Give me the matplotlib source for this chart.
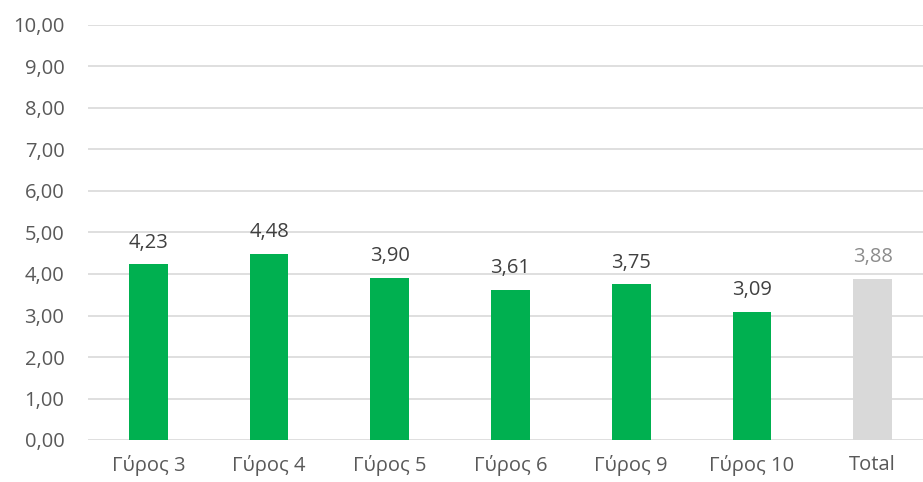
import matplotlib
matplotlib.use("Agg")
import matplotlib.pyplot as plt

categories = ["Γύρος 3", "Γύρος 4", "Γύρος 5", "Γύρος 6", "Γύρος 9", "Γύρος 10", "Total"]
values = [4.23, 4.48, 3.90, 3.61, 3.75, 3.09, 3.88]
colors = ["#00B050"] * 6 + ["#D9D9D9"]
label_colors = ["#404040"] * 6 + ["#8C8C8C"]
yticks = [0, 1, 2, 3, 4, 5, 6, 7, 8, 9, 10]

plt.rcParams['font.family'] = ['Open Sans', 'DejaVu Sans']

W, H = 923, 482
fig = plt.figure(figsize=(W / 100, H / 100), dpi=100)
left, right, top, bottom = 88, 933, 25, 440
ax = fig.add_axes([left / W, 1 - bottom / H, (right - left) / W, (bottom - top) / H])

x = list(range(len(categories)))
ax.bar(x, values, width=0.32, color=colors, zorder=3)
ax.set_xlim(-0.5, len(categories) - 0.5)
ax.set_ylim(0, 10)
ax.set_yticks(yticks)
ax.set_yticklabels([f"{v:.2f}".replace(".", ",") for v in yticks])
ax.set_xticks(x)
ax.set_xticklabels(categories)
ax.grid(axis="y", color="#D9D9D9", linewidth=1.2, zorder=0)
for s in ax.spines.values():
    s.set_visible(False)
ax.tick_params(axis="both", length=0, labelsize=14.5, colors="#595959")
ax.tick_params(axis="y", pad=17)
ax.tick_params(axis="x", pad=11)

for xi, v, c in zip(x, values, label_colors):
    ax.annotate(f"{v:.2f}".replace(".", ","), (xi, v), xytext=(0, 8.5),
                textcoords="offset points", ha="center", va="bottom",
                fontsize=14.5, color=c)

fig.savefig("out.png", dpi=100)
